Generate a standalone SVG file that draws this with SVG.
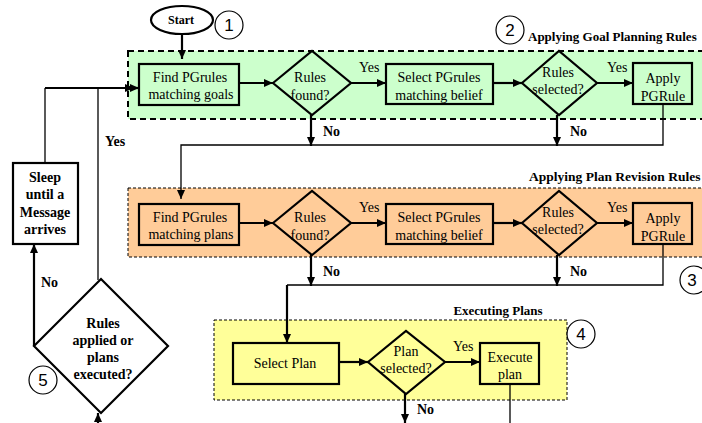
<svg xmlns="http://www.w3.org/2000/svg" width="702" height="423" viewBox="0 0 702 423">
  <style>
    .bg { fill: #ffffff; }
    .zone-goal { fill: #ccffcc; stroke: #000; stroke-width: 2; stroke-dasharray: 6 4; }
    .zone-rev { fill: #ffcc99; stroke: #000; stroke-width: 1; stroke-dasharray: 3 2; }
    .zone-exec { fill: #ffff99; stroke: #000; stroke-width: 1; stroke-dasharray: 3 2; }
    .box { fill: none; stroke: #000; stroke-width: 2.2; }
    .wbox { fill: #ffffff; stroke: #000; stroke-width: 2.2; }
    .dia { fill: none; stroke: #000; stroke-width: 2.2; }
    .num { fill: #ffffff; stroke: #000; stroke-width: 1.2; }
    .t { font-family: "Liberation Serif", "Times New Roman", serif; font-size: 14px; fill: #000; text-anchor: middle; }
    .b { font-weight: bold; }
    .lbl { font-family: "Liberation Serif", "Times New Roman", serif; font-size: 14px; fill: #000; }
    .title { font-family: "Liberation Serif", "Times New Roman", serif; font-size: 13.5px; font-weight: bold; fill: #000; }
    .digit { font-family: "Liberation Sans", Arial, sans-serif; font-size: 17px; fill: #000; text-anchor: middle; }
    .thick { fill: none; stroke: #000; stroke-width: 2.2; }
    .thin { fill: none; stroke: #000; stroke-width: 1.3; }
  </style>
  <defs>
    <marker id="ah" markerUnits="userSpaceOnUse" markerWidth="10" markerHeight="8" refX="9" refY="4" orient="auto">
      <path d="M0,0 L9,4 L0,8 Z" fill="#000"/>
    </marker>
  </defs>

  <rect class="bg" x="0" y="0" width="702" height="423"/>

  <!-- stage containers -->
  <g id="zone-goal-planning">
    <rect class="zone-goal" x="128" y="51" width="600" height="68"/>
    <text class="title" x="528" y="41" style="font-size:13px">Applying Goal Planning Rules</text>
  </g>
  <g id="zone-plan-revision">
    <rect class="zone-rev" x="128" y="188" width="600" height="69"/>
    <text class="title" x="529" y="181">Applying Plan Revision Rules</text>
  </g>
  <g id="zone-executing">
    <rect class="zone-exec" x="214" y="320" width="353" height="80"/>
    <text class="title" x="498" y="315" text-anchor="middle" style="font-size:13px">Executing Plans</text>
  </g>

  <!-- connectors -->
  <g id="connectors">
    <path class="thick" d="M182,34 V59" marker-end="url(#ah)"/>
    <!-- row 1 -->
    <path class="thick" d="M239,83 H273" marker-end="url(#ah)"/>
    <path class="thick" d="M351,83 H386" marker-end="url(#ah)"/>
    <path class="thick" d="M493,83 H522" marker-end="url(#ah)"/>
    <path class="thick" d="M597,83 H633" marker-end="url(#ah)"/>
    <path class="thick" d="M311,115 V146" marker-end="url(#ah)"/>
    <path class="thick" d="M557,115 V146" marker-end="url(#ah)"/>
    <path class="thin" d="M663,104 V145 H181 V199" marker-end="url(#ah)"/>
    <!-- row 2 -->
    <path class="thick" d="M239,223 H273" marker-end="url(#ah)"/>
    <path class="thick" d="M351,223 H386" marker-end="url(#ah)"/>
    <path class="thick" d="M493,223 H522" marker-end="url(#ah)"/>
    <path class="thick" d="M597,223 H633" marker-end="url(#ah)"/>
    <path class="thick" d="M311,255 V286" marker-end="url(#ah)"/>
    <path class="thick" d="M557,255 V286" marker-end="url(#ah)"/>
    <path class="thin" d="M663,244 V285 H287"/>
    <path class="thick" d="M287,285 V343" marker-end="url(#ah)"/>
    <!-- row 3 -->
    <path class="thick" d="M339,362 H368" marker-end="url(#ah)"/>
    <path class="thick" d="M445,362 H480" marker-end="url(#ah)"/>
    <path class="thick" d="M405,394 V423" marker-end="url(#ah)"/>
    <path class="thin" d="M510,384 V423"/>
    <!-- loop back -->
    <path class="thick" d="M98,423 V413" marker-end="url(#ah)"/>
    <path class="thick" d="M34,346 V244" marker-end="url(#ah)"/>
    <path class="thin" d="M45,163 V88"/>
    <path class="thin" d="M98,280 V88"/>
    <path class="thick" d="M45,88 H134" marker-end="url(#ah)"/>
    <path class="thick" d="M128,88 H139" marker-end="url(#ah)"/>
    <!-- branch labels -->
    <text class="lbl" x="359" y="72">Yes</text>
    <text class="lbl" x="607" y="72">Yes</text>
    <text class="lbl b" x="323" y="136">No</text>
    <text class="lbl b" x="570" y="136">No</text>
    <text class="lbl" x="359" y="212">Yes</text>
    <text class="lbl" x="607" y="212">Yes</text>
    <text class="lbl b" x="323" y="276">No</text>
    <text class="lbl b" x="570" y="276">No</text>
    <text class="lbl" x="453" y="351">Yes</text>
    <text class="lbl b" x="417" y="414">No</text>
    <text class="lbl b" x="105" y="146">Yes</text>
    <text class="lbl b" x="41" y="287">No</text>
  </g>

  <!-- start -->
  <g id="start">
    <ellipse cx="182" cy="20" rx="31" ry="14" fill="#fff" stroke="#000" stroke-width="2.2"/>
    <text class="t b" x="181" y="24" style="font-size:12px">Start</text>
  </g>

  <!-- goal planning row -->
  <g id="find-goal-rules">
    <rect class="box" x="139" y="64" width="100" height="41"/>
    <text class="t" x="190" y="82">Find PGrules</text>
    <text class="t" x="191" y="99">matching goals</text>
  </g>
  <g id="goal-rules-found">
    <polygon class="dia" points="273,83 312,51 351,83 312,115"/>
    <text class="t" x="310" y="82">Rules</text>
    <text class="t" x="310" y="100">found?</text>
  </g>
  <g id="select-goal-rules">
    <rect class="box" x="386" y="64" width="107" height="40"/>
    <text class="t" x="439" y="82">Select PGrules</text>
    <text class="t" x="439" y="100">matching belief</text>
  </g>
  <g id="goal-rules-selected">
    <polygon class="dia" points="522,83 559,51 597,83 559,115"/>
    <text class="t" x="558" y="77">Rules</text>
    <text class="t" x="558" y="94">selected?</text>
  </g>
  <g id="apply-goal-rule">
    <rect class="box" x="633" y="63" width="59" height="41"/>
    <text class="t" x="663" y="83">Apply</text>
    <text class="t" x="663" y="101">PGRule</text>
  </g>

  <!-- plan revision row -->
  <g id="find-plan-rules">
    <rect class="box" x="139" y="204" width="100" height="41"/>
    <text class="t" x="190" y="222">Find PGrules</text>
    <text class="t" x="191" y="239">matching plans</text>
  </g>
  <g id="plan-rules-found">
    <polygon class="dia" points="273,223 312,191 351,223 312,255"/>
    <text class="t" x="310" y="222">Rules</text>
    <text class="t" x="310" y="240">found?</text>
  </g>
  <g id="select-plan-rules">
    <rect class="box" x="386" y="204" width="107" height="40"/>
    <text class="t" x="439" y="222">Select PGrules</text>
    <text class="t" x="439" y="240">matching belief</text>
  </g>
  <g id="plan-rules-selected">
    <polygon class="dia" points="522,223 559,191 597,223 559,255"/>
    <text class="t" x="558" y="217">Rules</text>
    <text class="t" x="558" y="234">selected?</text>
  </g>
  <g id="apply-plan-rule">
    <rect class="box" x="633" y="203" width="59" height="41"/>
    <text class="t" x="663" y="223">Apply</text>
    <text class="t" x="663" y="241">PGRule</text>
  </g>

  <!-- execution row -->
  <g id="select-plan">
    <rect class="box" x="233" y="343" width="106" height="41"/>
    <text class="t" x="285" y="368">Select Plan</text>
  </g>
  <g id="plan-selected">
    <polygon class="dia" points="368,362 406,331 445,362 406,394"/>
    <text class="t" x="406" y="356">Plan</text>
    <text class="t" x="406" y="373">selected?</text>
  </g>
  <g id="execute-plan">
    <rect class="box" x="480" y="343" width="59" height="41"/>
    <text class="t" x="510" y="362">Execute</text>
    <text class="t" x="510" y="379">plan</text>
  </g>

  <!-- cycle control -->
  <g id="sleep">
    <rect class="wbox" x="13" y="163" width="65" height="81"/>
    <text class="t b" x="45" y="182">Sleep</text>
    <text class="t b" x="45" y="199">until a</text>
    <text class="t b" x="45" y="217">Message</text>
    <text class="t b" x="45" y="234">arrives</text>
  </g>
  <g id="anything-done">
    <polygon class="dia" points="34,346 101,279 168,346 101,413" fill="#fff"/>
    <text class="t b" x="103" y="328">Rules</text>
    <text class="t b" x="103" y="345">applied or</text>
    <text class="t b" x="103" y="362">plans</text>
    <text class="t b" x="103" y="379">executed?</text>
  </g>

  <!-- step numbers -->
  <g id="step-1"><circle class="num" cx="229" cy="25" r="14"/><text class="digit" x="229" y="31">1</text></g>
  <g id="step-2"><circle class="num" cx="510" cy="30" r="14"/><text class="digit" x="510" y="36">2</text></g>
  <g id="step-3"><circle class="num" cx="694" cy="280" r="14"/><text class="digit" x="692" y="286">3</text></g>
  <g id="step-4"><circle class="num" cx="581" cy="334" r="14"/><text class="digit" x="581" y="340">4</text></g>
  <g id="step-5"><circle class="num" cx="43" cy="380" r="14"/><text class="digit" x="43" y="386">5</text></g>
</svg>
